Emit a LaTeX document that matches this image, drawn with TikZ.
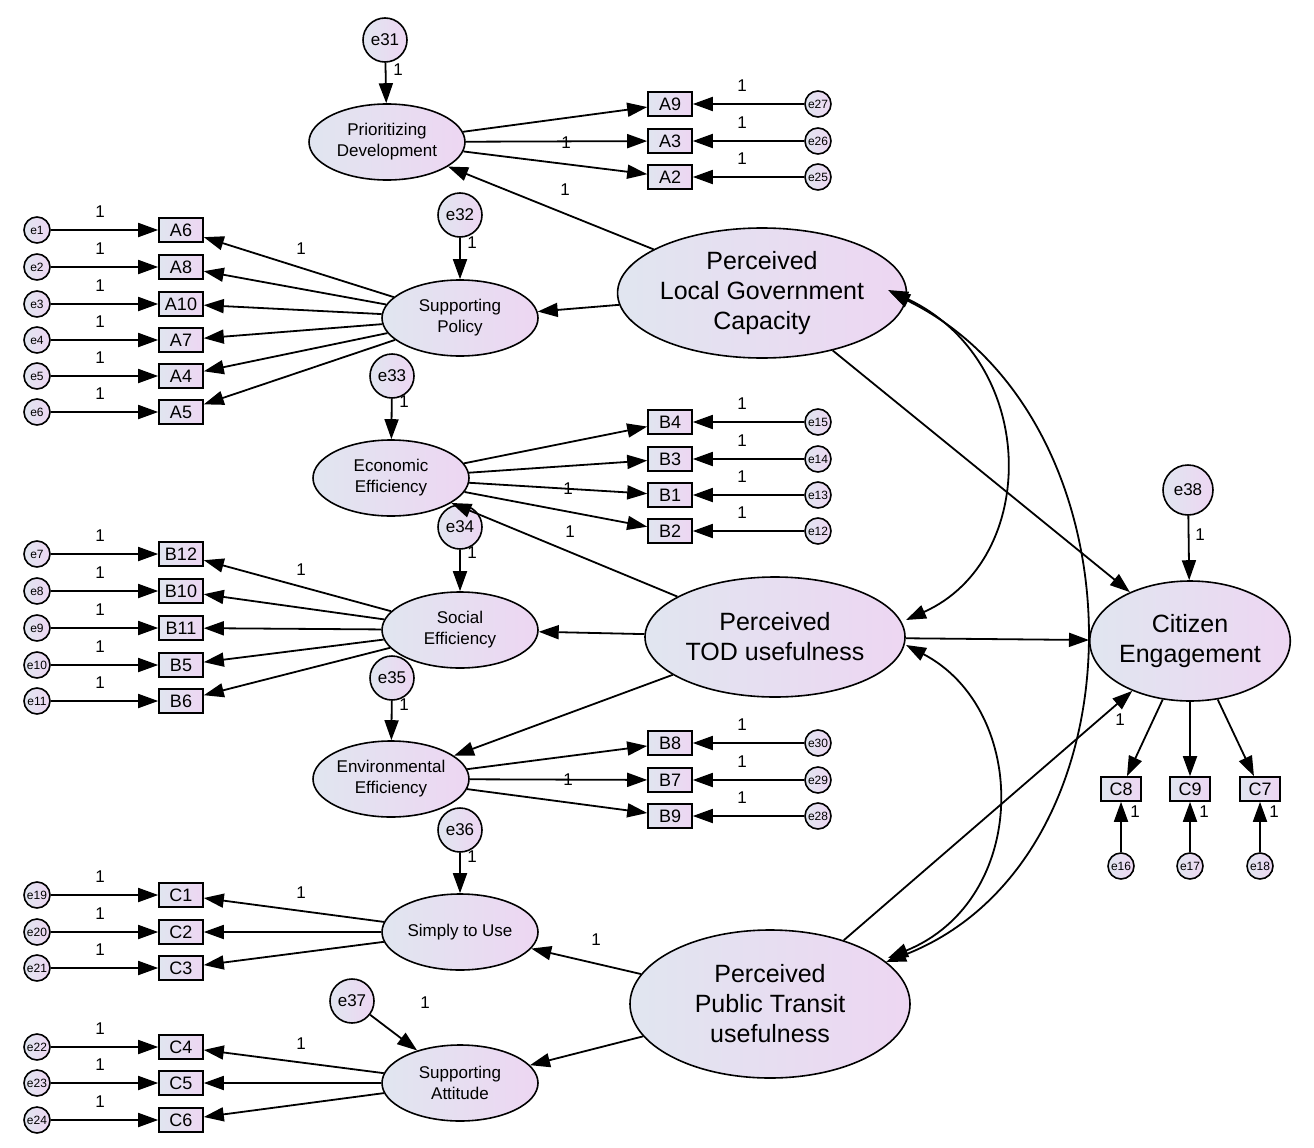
\documentclass[tikz,border=0pt]{standalone}
\usepackage{fontspec}
\setmainfont{Liberation Sans}
\usetikzlibrary{shapes.geometric,arrows.meta}
\begin{document}
\begin{tikzpicture}[x=1pt,y=-1pt,
  fillg/.style={left color=gL,right color=gR,draw=black,line width=1.6pt},
  big/.style={fillg,ellipse,inner sep=0pt,align=center,font=\fontsize{25}{30}\selectfont},
  lat/.style={fillg,ellipse,inner sep=0pt,minimum width=156pt,minimum height=76pt,align=center,font=\fontsize{17}{21}\selectfont},
  ind/.style={fillg,rectangle,inner sep=0pt,minimum width=44pt,minimum height=24pt,font=\fontsize{18}{20}\selectfont},
  err/.style={fillg,circle,inner sep=0pt,minimum size=26pt,font=\fontsize{12}{12}\selectfont},
  errb/.style={fillg,circle,inner sep=0pt,minimum size=44pt,font=\fontsize{17}{17}\selectfont},
  ar/.style={line width=1.8pt,-{Triangle[length=20pt,width=14pt]}},
  dar/.style={line width=1.8pt,{Triangle[length=20pt,width=14pt]}-{Triangle[length=20pt,width=14pt]}},
  one/.style={font=\fontsize{17}{17}\selectfont}]
\definecolor{gL}{rgb}{0.88,0.90,0.94}
\definecolor{gR}{rgb}{0.93,0.84,0.95}
\useasboundingbox (0,0) rectangle (1314,1148);
% second-order
\node[big,minimum width=250pt,minimum height=130pt] (PL) at (762,293) {Perceived\\Local Government\\Capacity};
\node[big,minimum width=260pt,minimum height=120pt] (PT) at (775,637) {Perceived\\TOD usefulness};
\node[big,minimum width=280pt,minimum height=148pt] (PP) at (770,1004) {Perceived\\Public Transit\\usefulness};
\node[big,minimum width=200pt,minimum height=120pt] (CE) at (1190,641) {Citizen\\Engagement};
% first-order
\node[lat] (PD) at (387,142) {Prioritizing\\Development};
\node[lat] (SP) at (460,318) {Supporting\\Policy};
\node[lat] (EC) at (391,478) {Economic\\Efficiency};
\node[lat] (SO) at (460,630) {Social\\Efficiency};
\node[lat] (EN) at (391,779) {Environmental\\Efficiency};
\node[lat] (SU) at (460,932) {Simply to Use};
\node[lat] (SA) at (460,1083) {Supporting\\Attitude};
% disturbances
\node[errb] (e31) at (385,40) {e31};
\node[errb] (e32) at (460,215) {e32};
\node[errb] (e33) at (392,376) {e33};
\node[errb] (e34) at (460,527) {e34};
\node[errb] (e35) at (392,678) {e35};
\node[errb] (e36) at (460,830) {e36};
\node[errb] (e37) at (352,1001) {e37};
\node[errb,minimum size=50pt] (e38) at (1188,490) {e38};
\draw[ar] (e31)--(PD); \node[one] at (398,70) {1};
\draw[ar] (e32)--(SP); \node[one] at (472,243) {1};
\draw[ar] (e33)--(EC); \node[one] at (404,402) {1};
\draw[ar] (e34)--(SO); \node[one] at (472,553) {1};
\draw[ar] (e35)--(EN); \node[one] at (404,705) {1};
\draw[ar] (e36)--(SU); \node[one] at (472,857) {1};
\draw[ar] (e37)--(SA); \node[one] at (425,1003) {1};
\draw[ar] (e38)--(CE); \node[one] at (1200,535) {1};
% right-side indicator groups: latent, list of name/y/err
\foreach \lt/\lst in {PD/{A9/104/e27,A3/141/e26,A2/177/e25},
                       EC/{B4/422/e15,B3/459/e14,B1/495/e13,B2/531/e12},
                       EN/{B8/743/e30,B7/780/e29,B9/816/e28}}{
  \foreach \n/\y/\e in \lst{
    \node[ind] (\n) at (670,\y) {\n};
    \node[err] (\e) at (818,\y) {\e};
    \draw[ar] (\lt)--(\n);
    \draw[ar] (\e)--(\n);
    \node[one] at (742,\y-18) {1};
  }}
% left-side groups
\foreach \lt/\lst in {SP/{A6/230/e1,A8/267/e2,A10/304/e3,A7/340/e4,A4/376/e5,A5/412/e6},
                       SO/{B12/554/e7,B10/591/e8,B11/628/e9,B5/665/e10,B6/701/e11},
                       SU/{C1/895/e19,C2/932/e20,C3/968/e21},
                       SA/{C4/1047/e22,C5/1083/e23,C6/1120/e24}}{
  \foreach \n/\y/\e in \lst{
    \node[ind] (\n) at (181,\y) {\n};
    \node[err] (\e) at (37,\y) {\e};
    \draw[ar] (\lt)--(\n);
    \draw[ar] (\e)--(\n);
    \node[one] at (100,\y-18) {1};
  }}
\node[one] at (566,143) {1};
\node[one] at (301,249) {1};
\node[one] at (568,489) {1};
\node[one] at (301,570) {1};
\node[one] at (568,780) {1};
\node[one] at (301,893) {1};
\node[one] at (301,1044) {1};
% CE indicators
\foreach \n/\x/\e in {C8/1121/e16,C9/1190/e17,C7/1260/e18}{
  \node[ind,minimum width=40pt] (\n) at (\x,789) {\n};
  \node[err] (\e) at (\x,866) {\e};
  \draw[ar] (CE)--(\n);
  \draw[ar] (\e)--(\n);
  \node[one] at (\x+14,812) {1};
}
\node[one] at (1120,720) {1};
% structural
\draw[ar] (PL)--(PD); \node[one] at (565,190) {1};
\draw[ar] (PL)--(SP);
\draw[ar] (PT)--(EC); \node[one] at (570,532) {1};
\draw[ar] (PT)--(SO);
\draw[ar] (PT)--(EN);
\draw[ar] (PP)--(SU); \node[one] at (596,940) {1};
\draw[ar] (PP)--(SA);
\draw[ar] (PL)--(CE);
\draw[ar] (PT)--(CE);
\draw[ar] (PP)--(CE);
% covariances
\draw[dar] (888,290) .. controls (1040,360) and (1040,560) .. (906,620);
\draw[dar] (890,292) .. controls (1150,420) and (1150,860) .. (886,962);
\draw[dar] (906,645) .. controls (1030,710) and (1030,900) .. (888,958);
\end{tikzpicture}
\end{document}
